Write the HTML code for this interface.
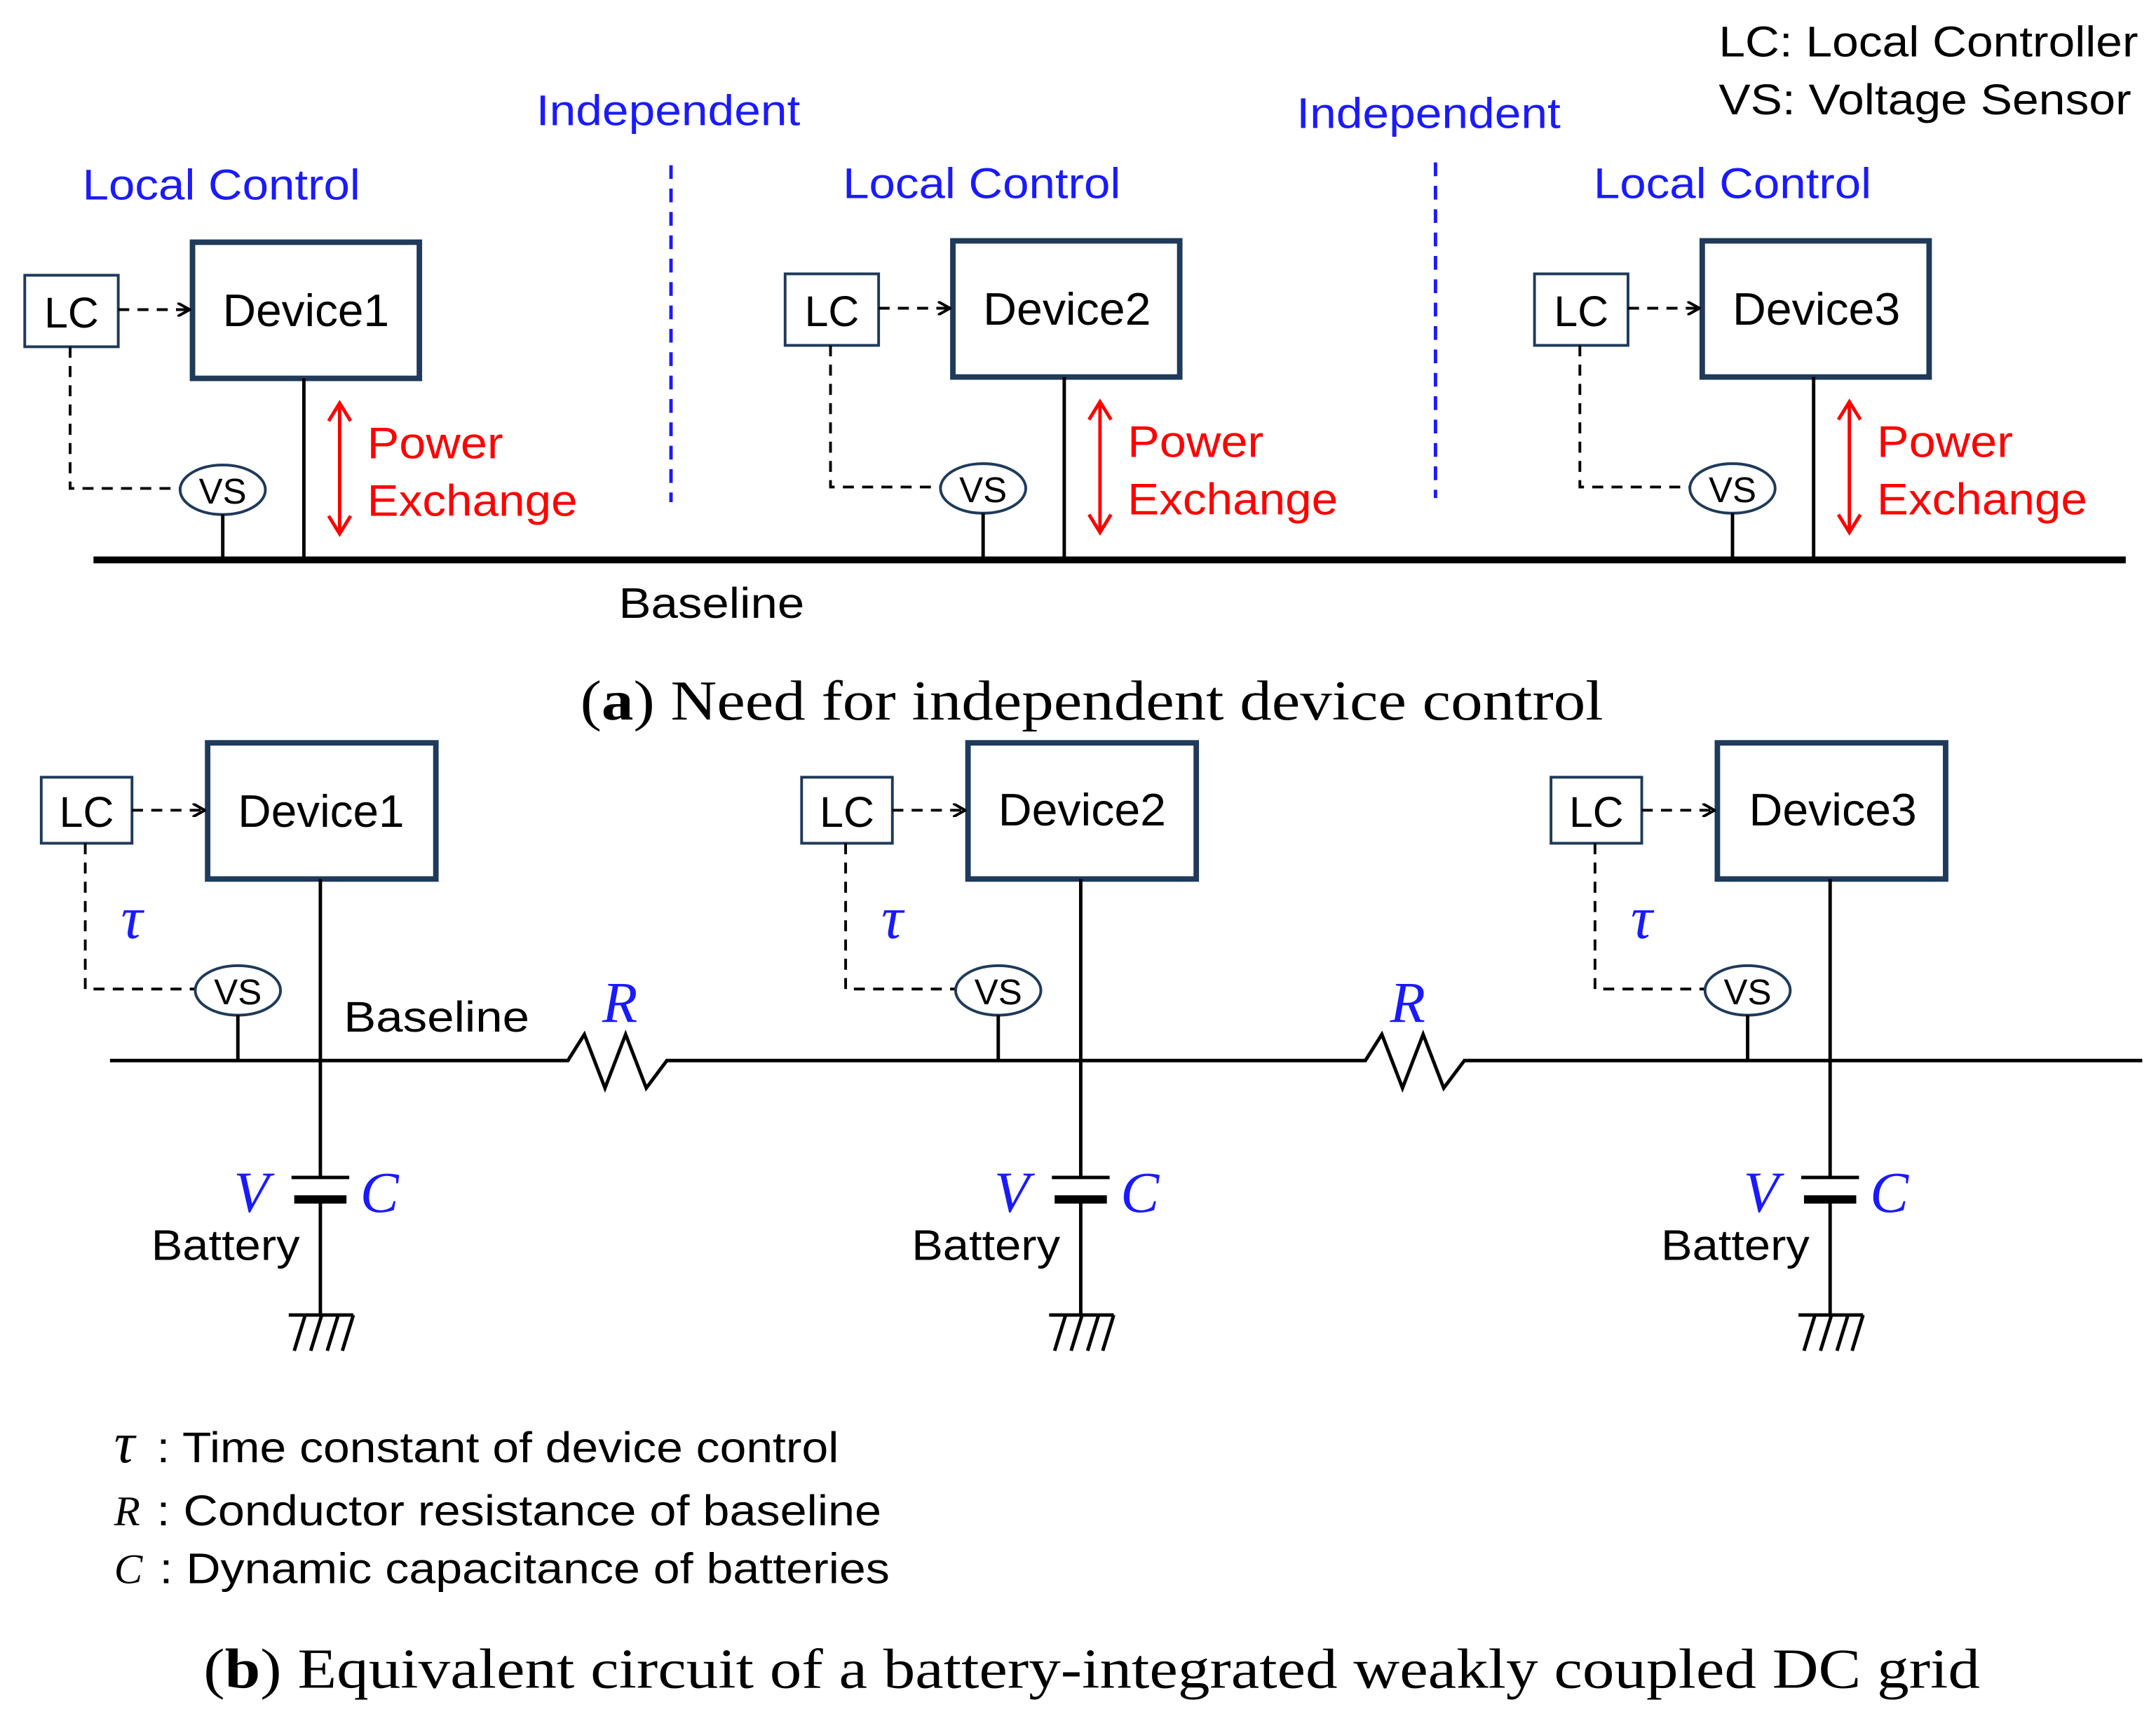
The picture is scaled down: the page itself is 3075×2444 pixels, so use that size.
<!DOCTYPE html>
<html><head><meta charset="utf-8"><style>
html,body{margin:0;padding:0;background:#fff;width:3075px;height:2444px;overflow:hidden}
svg{display:block}
.s{font-family:"Liberation Sans",sans-serif}
.blue{fill:#1a1aff}
.red{fill:#ff0000}
.it{font-family:"Liberation Serif",serif;font-style:italic}
</style></head><body>
<svg width="3075" height="2444" viewBox="0 0 1568 1246" xmlns="http://www.w3.org/2000/svg">
<defs>
<marker id="ah" markerWidth="10" markerHeight="10" refX="9" refY="5" orient="auto" markerUnits="userSpaceOnUse"><path d="M0,0 L9,5 L0,10" fill="none" stroke="#000" stroke-width="2"/></marker>
</defs>
<g class="s" font-size="31" lengthAdjust="spacingAndGlyphs">
<text x="1250" y="41" textLength="305" lengthAdjust="spacingAndGlyphs">LC: Local Controller</text>
<text x="1250" y="83" textLength="300" lengthAdjust="spacingAndGlyphs">VS: Voltage Sensor</text>
<text x="390" y="91" class="blue" textLength="192" lengthAdjust="spacingAndGlyphs">Independent</text>
<text x="943" y="93" class="blue" textLength="192" lengthAdjust="spacingAndGlyphs">Independent</text>
<text x="60" y="145" class="blue" textLength="202" lengthAdjust="spacingAndGlyphs">Local Control</text>
<text x="613" y="144" class="blue" textLength="202" lengthAdjust="spacingAndGlyphs">Local Control</text>
<text x="1159" y="144" class="blue" textLength="202" lengthAdjust="spacingAndGlyphs">Local Control</text>
</g>
<g stroke="#1a1aff" stroke-width="2.5" stroke-dasharray="10,7">
<line x1="488" y1="120" x2="488" y2="365"/>
<line x1="1044" y1="118" x2="1044" y2="362"/>
</g>
<!-- part a devices -->
<g id="a1">
<rect x="18" y="200" width="68" height="52" fill="#fff" stroke="#1f3a5a" stroke-width="2"/>
<text x="52" y="238" class="s" font-size="31" text-anchor="middle">LC</text>
<rect x="140" y="176" width="165" height="99" fill="#fff" stroke="#1f3a5a" stroke-width="4"/>
<line x1="86" y1="225" x2="138" y2="225" stroke="#000" stroke-width="2" stroke-dasharray="8,6" marker-end="url(#ah)"/>
<polyline points="51,252 51,355 131,355" fill="none" stroke="#000" stroke-width="2" stroke-dasharray="8,6"/>
<ellipse cx="162" cy="356" rx="31" ry="18" fill="#fff" stroke="#1f3a5a" stroke-width="2"/>
<text x="162" y="366" class="s" font-size="26" text-anchor="middle">VS</text>
<line x1="162" y1="374" x2="162" y2="407" stroke="#000" stroke-width="2.5"/>
<line x1="221" y1="275" x2="221" y2="407" stroke="#000" stroke-width="2.5"/>
<line x1="247" y1="294" x2="247" y2="387" stroke="#f00" stroke-width="2.5"/>
<path d="M239,306 L247,293 L255,306 M239,375 L247,388 L255,375" fill="none" stroke="#f00" stroke-width="2.5"/>
<text x="267" y="333" class="s red" font-size="32" textLength="99" lengthAdjust="spacingAndGlyphs">Power</text>
<text x="267" y="375" class="s red" font-size="32" textLength="153" lengthAdjust="spacingAndGlyphs">Exchange</text>
</g>
<use href="#a1" x="553" y="-1"/>
<use href="#a1" x="1098" y="-1"/>
<g class="s" font-size="33">
<text x="162" y="237" textLength="121" lengthAdjust="spacingAndGlyphs">Device1</text>
<text x="715" y="236" textLength="122" lengthAdjust="spacingAndGlyphs">Device2</text>
<text x="1260" y="236" textLength="122" lengthAdjust="spacingAndGlyphs">Device3</text>
</g>
<line x1="68" y1="407" x2="1546" y2="407" stroke="#000" stroke-width="5"/>
<text x="450" y="449" class="s" font-size="31" textLength="135" lengthAdjust="spacingAndGlyphs">Baseline</text>
<text x="422" y="523" font-family="Liberation Serif,serif" font-size="41" textLength="744" lengthAdjust="spacingAndGlyphs">(<tspan font-weight="bold">a</tspan>) Need for independent device control</text>
<!-- part b -->
<g id="b1">
<rect x="30" y="565" width="66" height="48" fill="#fff" stroke="#1f3a5a" stroke-width="2"/>
<text x="63" y="601" class="s" font-size="31" text-anchor="middle">LC</text>
<rect x="151" y="540" width="166" height="99" fill="#fff" stroke="#1f3a5a" stroke-width="4"/>
<line x1="96" y1="589" x2="149" y2="589" stroke="#000" stroke-width="2" stroke-dasharray="8,6" marker-end="url(#ah)"/>
<polyline points="62,613 62,719 142,719" fill="none" stroke="#000" stroke-width="2" stroke-dasharray="8,6"/>
<text x="88" y="682" class="it blue" font-size="44">τ</text>
<ellipse cx="173" cy="720" rx="31" ry="18" fill="#fff" stroke="#1f3a5a" stroke-width="2"/>
<text x="173" y="730" class="s" font-size="26" text-anchor="middle">VS</text>
<line x1="173" y1="738" x2="173" y2="771" stroke="#000" stroke-width="2.5"/>
<line x1="233" y1="639" x2="233" y2="856" stroke="#000" stroke-width="2.5"/>
<line x1="212" y1="856" x2="254" y2="856" stroke="#000" stroke-width="2.5"/>
<line x1="214" y1="872" x2="252" y2="872" stroke="#000" stroke-width="6"/>
<line x1="233" y1="872" x2="233" y2="956" stroke="#000" stroke-width="2.5"/>
<line x1="210" y1="956" x2="257" y2="956" stroke="#000" stroke-width="2.5"/>
<g stroke="#000" stroke-width="2.5"><line x1="222" y1="956" x2="214" y2="982"/><line x1="234" y1="956" x2="226" y2="982"/><line x1="246" y1="956" x2="238" y2="982"/><line x1="257" y1="956" x2="249" y2="982"/></g>
<text x="170" y="881" class="it blue" font-size="42">V</text>
<text x="262" y="881" class="it blue" font-size="42">C</text>
<text x="110" y="916" class="s" font-size="31" textLength="108" lengthAdjust="spacingAndGlyphs">Battery</text>
</g>
<use href="#b1" x="553" y="0"/>
<use href="#b1" x="1098" y="0"/>
<g class="s" font-size="33">
<text x="173" y="601" textLength="121" lengthAdjust="spacingAndGlyphs">Device1</text>
<text x="726" y="600" textLength="122" lengthAdjust="spacingAndGlyphs">Device2</text>
<text x="1272" y="600" textLength="122" lengthAdjust="spacingAndGlyphs">Device3</text>
</g>
<polyline points="80,771 405,771 413,771 425,752 440,791 455,752 470,791 485,771 985,771 993,771 1005,752 1020,791 1035,752 1050,791 1065,771 1558,771" fill="none" stroke="#000" stroke-width="2.5"/>
<text x="438" y="743" class="it blue" font-size="42">R</text>
<text x="1011" y="743" class="it blue" font-size="42">R</text>
<text x="250" y="750" class="s" font-size="31" textLength="135" lengthAdjust="spacingAndGlyphs">Baseline</text>
<g font-size="31">
<text x="83" y="1063" class="it" font-size="42">τ</text><text x="114" y="1063" class="s" textLength="496" lengthAdjust="spacingAndGlyphs">: Time constant of device control</text>
<text x="83" y="1109" class="it">R</text><text x="114" y="1109" class="s" textLength="527" lengthAdjust="spacingAndGlyphs">: Conductor resistance of baseline</text>
<text x="83" y="1151" class="it">C</text><text x="116" y="1151" class="s" textLength="531" lengthAdjust="spacingAndGlyphs">: Dynamic capacitance of batteries</text>
</g>
<text x="148" y="1227" font-family="Liberation Serif,serif" font-size="41" textLength="1292" lengthAdjust="spacingAndGlyphs">(<tspan font-weight="bold">b</tspan>) Equivalent circuit of a battery-integrated weakly coupled DC grid</text>
</svg>
</body></html>
